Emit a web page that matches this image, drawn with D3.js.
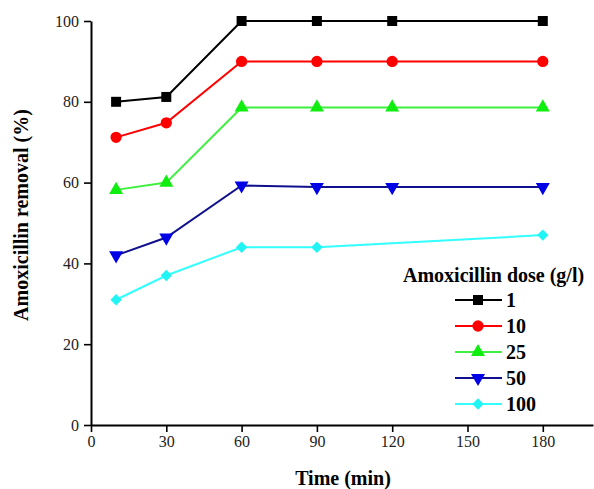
<!DOCTYPE html>
<html>
<head>
<meta charset="utf-8">
<script src="https://cdn.jsdelivr.net/npm/d3@7"></script>
<style>
  body { margin: 0; background: #fff; }
  svg text { font-family: "Liberation Serif", "Times New Roman", serif; }
</style>
</head>
<body>
<div id="chart"></div>
<script>
// data
const times = [10, 30, 60, 90, 120, 180];
const dose1 = [80, 81.2, 100, 100, 100, 100];
const dose10 = [71.2, 74.8, 90, 90, 90, 90];
const dose25 = [58.2, 60, 78.6, 78.6, 78.6, 78.6];
const dose50 = [42, 46.4, 59.3, 58.9, 58.9, 58.9];
const dose100 = [31, 37, 44, 44, null, 47];
const doseLabels = ["1", "10", "25", "50", "100"];
const xTicks = [0, 30, 60, 90, 120, 150, 180];
const yTicks = [0, 20, 40, 60, 80, 100];

const series = [
  { name: doseLabels[0], values: dose1, line: "#000", fill: "#000", shape: "square" },
  { name: doseLabels[1], values: dose10, line: "#ff0000", fill: "#ff0000", shape: "circle" },
  { name: doseLabels[2], values: dose25, line: "#3ef03e", fill: "#10ee10", shape: "up" },
  { name: doseLabels[3], values: dose50, line: "#10108f", fill: "#0000e6", shape: "down" },
  { name: doseLabels[4], values: dose100, line: "#33ffff", fill: "#20f4f4", shape: "diamond" },
];

// set the dimensions and margins of the graph
const margin = { top: 21, right: 1, bottom: 64, left: 91 },
  width = 594 - margin.left - margin.right,
  height = 489 - margin.top - margin.bottom;

const svg = d3
  .select("#chart")
  .append("svg")
  .attr("width", width + margin.left + margin.right)
  .attr("height", height + margin.top + margin.bottom)
  .append("g")
  .attr("transform", `translate(${margin.left},${margin.top})`);

const x = d3.scaleLinear().domain([0, 200]).range([0, width]);
const y = d3.scaleLinear().domain([0, 100]).range([height, 0]);

// X axis
const gx = svg.append("g")
  .attr("transform", `translate(0, ${height})`)
  .call(d3.axisBottom(x).tickValues(xTicks).tickSize(7).tickSizeOuter(0).tickPadding(4));

// Y axis
const gy = svg.append("g")
  .call(d3.axisLeft(y).tickValues(yTicks).tickSize(7).tickSizeOuter(0).tickPadding(5));

[gx, gy].forEach(g => {
  g.attr("font-family", "Liberation Serif").attr("font-size", 16);
  g.select(".domain").attr("stroke", "#000").attr("stroke-width", 2);
  g.selectAll(".tick line").attr("stroke", "#000").attr("stroke-width", 1.6);
  g.selectAll(".tick text")
    .attr("fill", "#222")
    .attr("font-family", "Liberation Serif")
    .attr("font-size", 16);
});

// axis titles
svg.append("text")
  .attr("x", x(100) + 1)
  .attr("y", height + 60)
  .attr("text-anchor", "middle")
  .style("font-size", "20px")
  .style("font-weight", "bold")
  .text("Time (min)");

svg.append("text")
  .attr("transform", `translate(${22 - margin.left + 6}, ${y(50) - 8}) rotate(-90)`)
  .attr("text-anchor", "middle")
  .style("font-size", "20px")
  .style("font-weight", "bold")
  .text("Amoxicillin removal (%)");

function symbolPath(shape) {
  if (shape === "square") return d3.symbol(d3.symbolSquare, 100)();
  if (shape === "circle") return d3.symbol(d3.symbolCircle, 100)();
  if (shape === "up" || shape === "down") return d3.symbol(d3.symbolTriangle, 85)();
  return d3.symbol(d3.symbolSquare, 64)();
}
function symbolRotate(shape) {
  if (shape === "down") return 180;
  if (shape === "diamond") return 45;
  return 0;
}

const line = d3.line()
  .x(d => x(d[0]))
  .y(d => y(d[1]));

series.forEach(s => {
  const pts = times.map((t, i) => [t, s.values[i]]).filter(d => d[1] != null);

  svg.append("path")
    .datum(pts)
    .attr("fill", "none")
    .attr("stroke", s.line)
    .attr("stroke-width", 2)
    .attr("d", line);

  svg.selectAll(null)
    .data(pts)
    .enter()
    .append("path")
    .attr("d", symbolPath(s.shape))
    .attr("fill", s.fill)
    .attr("transform", d => `translate(${x(d[0])},${y(d[1])}) rotate(${symbolRotate(s.shape)})`);
});

// legend
const legend = svg.append("g").attr("transform", `translate(${403 - margin.left}, ${275 - margin.top})`);
legend.append("text")
  .attr("x", 0)
  .attr("y", 7)
  .style("font-size", "20px")
  .style("font-weight", "bold")
  .text("Amoxicillin dose (g/l)");

series.forEach((s, i) => {
  const ly = 25 + i * 26;
  legend.append("line")
    .attr("x1", 52).attr("x2", 99)
    .attr("y1", ly).attr("y2", ly)
    .attr("stroke", s.line)
    .attr("stroke-width", 2);
  legend.append("path")
    .attr("d", symbolPath(s.shape))
    .attr("fill", s.fill)
    .attr("transform", `translate(75,${ly}) rotate(${symbolRotate(s.shape)})`);
  legend.append("text")
    .attr("x", 103)
    .attr("y", ly + 7)
    .style("font-size", "20px")
    .style("font-weight", "bold")
    .text(s.name);
});
</script>
</body>
</html>
